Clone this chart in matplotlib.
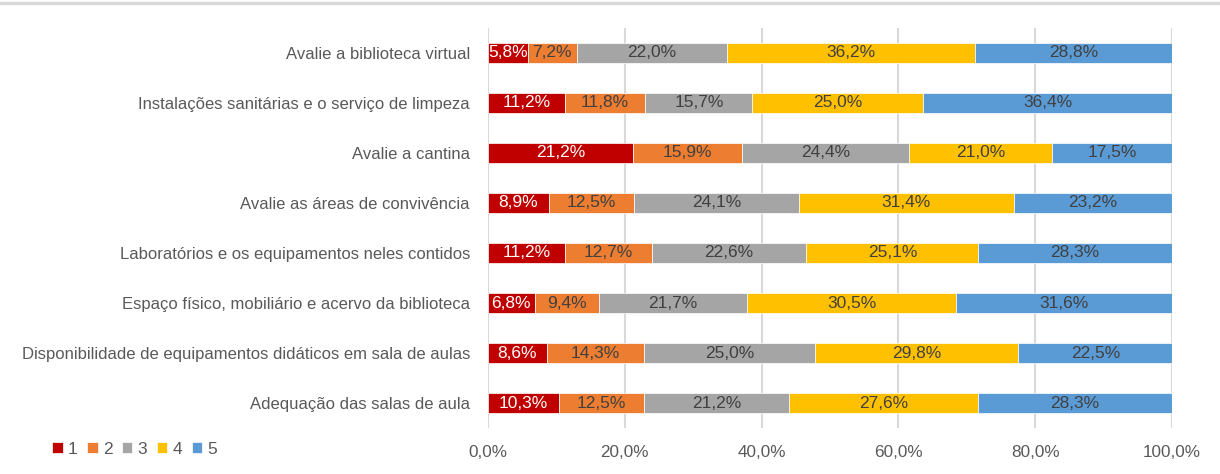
import matplotlib.pyplot as plt
import numpy as np

plt.rcParams['font.family'] = ['Liberation Sans Narrow', 'Liberation Sans', 'DejaVu Sans']

# data, top row first
categories = ['Avalie a biblioteca virtual',
              'Instalações sanitárias e o serviço de limpeza',
              'Avalie a cantina',
              'Avalie as áreas de convivência',
              'Laboratórios e os equipamentos neles contidos',
              'Espaço físico, mobiliário e acervo da biblioteca',
              'Disponibilidade de equipamentos didáticos em sala de aulas',
              'Adequação das salas de aula']
s1 = [5.8, 11.2, 21.2, 8.9, 11.2, 6.8, 8.6, 10.3]
s2 = [7.2, 11.8, 15.9, 12.5, 12.7, 9.4, 14.3, 12.5]
s3 = [22.0, 15.7, 24.4, 24.1, 22.6, 21.7, 25.0, 21.2]
s4 = [36.2, 25.0, 21.0, 31.4, 25.1, 30.5, 29.8, 27.6]
s5 = [28.8, 36.4, 17.5, 23.2, 28.3, 31.6, 22.5, 28.3]
series_names = ['1', '2', '3', '4', '5']
xticks = [0, 20, 40, 60, 80, 100]

colors = ['#C00000', '#ED7D31', '#A5A5A5', '#FFC000', '#5B9BD5']
txtcol = ['white', '#404040', '#404040', '#404040', '#404040']

vals = np.array([s1, s2, s3, s4, s5])
widths = vals / vals.sum(axis=0) * 100

fig = plt.figure(figsize=(12.2, 4.74), dpi=100)
ax = fig.add_axes([0.4, 0.097, 0.5607, 0.844])

y = np.arange(len(categories))
left = np.zeros(len(categories))
for k in range(5):
    ax.barh(y, widths[k], left=left, height=0.4, color=colors[k],
            edgecolor='white', linewidth=0.5, label=series_names[k], zorder=3)
    for i in range(len(categories)):
        ax.text(left[i] + widths[k][i] / 2, y[i], ('%.1f%%' % vals[k][i]).replace('.', ','),
                ha='center', va='center', fontsize=12.5, color=txtcol[k], zorder=4)
    left += widths[k]

ax.set_ylim(len(categories) - 0.5, -0.5)
ax.set_xlim(0, 100)
ax.set_yticks(y)
ax.set_yticklabels(categories, fontsize=12, color='#595959')
ax.set_xticks(xticks)
ax.set_xticklabels([('%.1f%%' % t).replace('.', ',') for t in xticks], fontsize=12.3, color='#595959')
ax.tick_params(length=0, pad=12)
ax.tick_params(axis='y', pad=13)
ax.grid(axis='x', color='#D9D9D9', linewidth=1.5, zorder=0)
for sp in ax.spines.values():
    sp.set_visible(False)

fig.legend(loc='center left', bbox_to_anchor=(0.03, 0.052), ncol=5, frameon=False,
           fontsize=12.5, handlelength=0.6, handleheight=0.6, handletextpad=0.3,
           columnspacing=0.55, labelcolor='#595959')

# top border line
fig.add_artist(plt.Line2D([0, 1], [0.994, 0.994], color='#D9D9D9', linewidth=2.5))

plt.savefig('out.png', dpi=100)
